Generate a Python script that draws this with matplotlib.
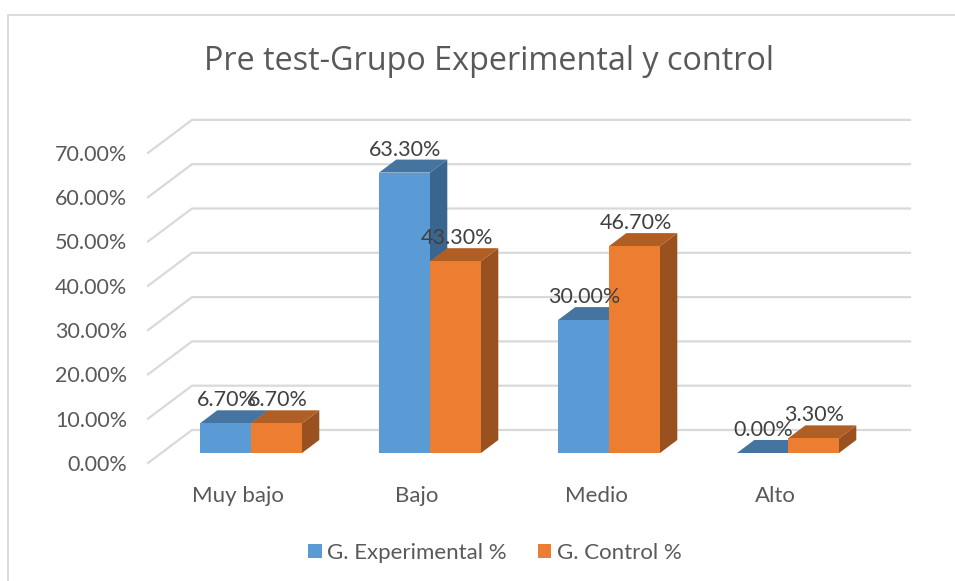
import matplotlib
matplotlib.use('Agg')
import matplotlib.pyplot as plt
from matplotlib.patches import Patch, Polygon

categories = ['Muy bajo', 'Bajo', 'Medio', 'Alto']
experimental = [6.7, 63.3, 30.0, 0.0]
control = [6.7, 43.3, 46.7, 3.3]
series_names = ['G. Experimental %', 'G. Control %']
ticks = [0, 10, 20, 30, 40, 50, 60, 70]

BLUE = ('#5B9BD5', '#44749F', '#3A658E')
ORANGE = ('#ED7D31', '#B15E25', '#99521F')

# one x unit = one category = 179 px, one y unit = 1 % = 4.43 px
PX_X = 179.0
PX_Y = 4.43
BAR_W = 51 / PX_X
DEPTH_X = 17.3 / PX_X
DEPTH_Y = 13 / PX_Y

plt.rcParams['font.family'] = ['Lato', 'DejaVu Sans']

fig = plt.figure(figsize=(9.55, 5.81), dpi=100)
ax = fig.add_axes([0, 0, 1, 1])
ax.set_xlim(-251 / PX_X, (955 - 251) / PX_X)
ax.set_ylim((453 - 581) / PX_Y, 453 / PX_Y)
ax.axis('off')


def px(x, y):
    # pixel position in the picture to data coordinates
    return (x - 251) / PX_X, (453 - y) / PX_Y


# chart frame
frame_x = [px(8, 581)[0], px(8, 15)[0], px(955, 15)[0]]
frame_y = [px(8, 581)[1], px(8, 15)[1], px(955, 15)[1]]
ax.plot(frame_x, frame_y, color='#D9D9D9', lw=1.3, zorder=1)

# gridlines on the back wall, with the slanted part on the side wall
front_x = px(148, 0)[0]
back_x = px(192, 0)[0]
right_x = px(910, 0)[0]
front_0 = px(0, 463)[1]
back_0 = px(0, 430)[1]
for t in ticks:
    ax.plot([front_x, back_x, right_x], [front_0 + t, back_0 + t, back_0 + t],
            color='#D9D9D9', lw=1.6, zorder=1, solid_joinstyle='miter')
    ax.text(px(127, 0)[0], front_0 + t - 0.45, '%.2f%%' % t, ha='right', va='center',
            fontsize=15.5, color='#595959', zorder=5)


def bar3d(left, value, colors, z):
    right = left + BAR_W
    top = [(left, value), (right, value), (right + DEPTH_X, value + DEPTH_Y), (left + DEPTH_X, value + DEPTH_Y)]
    side = [(right, 0), (right + DEPTH_X, DEPTH_Y), (right + DEPTH_X, value + DEPTH_Y), (right, value)]
    front = [(left, 0), (right, 0), (right, value), (left, value)]
    ax.add_patch(Polygon(side, closed=True, fc=colors[2], ec='none', zorder=z))
    ax.add_patch(Polygon(top, closed=True, fc=colors[1], ec='none', zorder=z))
    ax.add_patch(Polygon(front, closed=True, fc=colors[0], ec='none', zorder=z + 0.1))


for i, name in enumerate(categories):
    bar3d(i - BAR_W, experimental[i], BLUE, 2 + i)
    bar3d(i, control[i], ORANGE, 2.2 + i)
    ax.text(i - 13 / PX_X, px(0, 496)[1], name, ha='center', va='center',
            fontsize=16, color='#595959', zorder=10)

# data labels go over all of the bars
for i in range(len(categories)):
    for off, vals in ((-BAR_W / 2, experimental), (BAR_W / 2, control)):
        ax.text(i + off + 1 / PX_X, vals[i] + 23 / PX_Y, '%.2f%%' % vals[i], ha='center', va='center',
                fontsize=15.5, color='#404040', zorder=12)

ax.text(px(489, 0)[0], px(0, 62)[1], 'Pre test-Grupo Experimental y control', ha='center', va='center',
        fontsize=23.3, color='#595959', family=['Open Sans', 'DejaVu Sans'])

handles = [Patch(fc=BLUE[0], ec='none'), Patch(fc=ORANGE[0], ec='none')]
ax.legend(handles, series_names, ncol=2, frameon=False, loc='center',
          bbox_to_anchor=(495 / 955, 1 - 553 / 581), fontsize=16, labelcolor='#595959',
          handlelength=0.6, handleheight=0.6, handletextpad=0.25, columnspacing=1.4)

fig.savefig('out.png', dpi=100)
